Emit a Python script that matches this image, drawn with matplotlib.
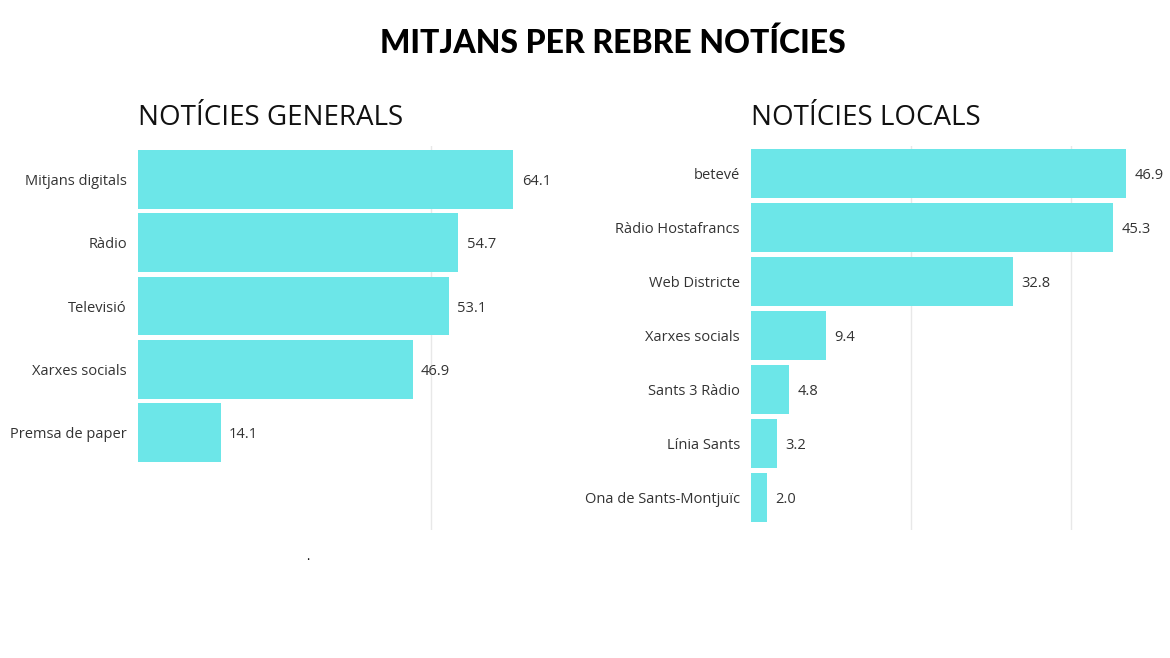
import matplotlib
matplotlib.use("Agg")
import matplotlib.pyplot as plt

# --- data ---
general_labels = ["Mitjans digitals", "Ràdio", "Televisió", "Xarxes socials", "Premsa de paper"]
general_values = [64.1, 54.7, 53.1, 46.9, 14.1]

local_labels = ["betevé", "Ràdio Hostafrancs", "Web Districte", "Xarxes socials",
                "Sants 3 Ràdio", "Línia Sants", "Ona de Sants-Montjuïc"]
local_values = [46.9, 45.3, 32.8, 9.4, 4.8, 3.2, 2.0]

BAR = "#6ce6e8"
TXT = "#333333"
W, H = 1170, 658

plt.rcParams["font.family"] = ["Open Sans", "DejaVu Sans"]


def panel(fig, rect_px, labels, values, xmax, ticks, height, ylim):
    x0, y0, x1, y1 = rect_px
    ax = fig.add_axes([x0 / W, 1 - y1 / H, (x1 - x0) / W, (y1 - y0) / H])
    pos = list(range(len(values)))
    ax.barh(pos, values, height=height, color=BAR, zorder=2)
    for p, v in zip(pos, values):
        ax.annotate(f"{v:.1f}", (v, p), xytext=(6, 0), textcoords="offset points",
                    va="center_baseline", ha="left", fontsize=10.5, color=TXT)
    ax.set_xlim(0, xmax)
    ax.set_ylim(*ylim)
    ax.set_yticks(pos)
    ax.set_yticklabels(labels, fontsize=10.5, color=TXT, va="center_baseline")
    ax.set_xticks(ticks)
    ax.set_xticklabels([])
    ax.tick_params(axis="both", length=0)
    ax.tick_params(axis="y", pad=8)
    ax.grid(axis="x", color="#e8e8e8", linewidth=1, zorder=0)
    for s in ax.spines.values():
        s.set_visible(False)
    return ax


fig = plt.figure(figsize=(W / 100, H / 100), dpi=100)

panel(fig, (138, 146, 548, 530), general_labels, general_values, 70, [50],
      0.93, (5.54, -0.53))
panel(fig, (751, 146, 1167, 530), local_labels, local_values, 52, [20, 40],
      0.907, (6.60, -0.51))

fig.text(613 / W, 1 - 43 / H, "MITJANS PER REBRE NOTÍCIES", ha="center", va="center",
         fontsize=23, fontweight="black", family=["Lato", "DejaVu Sans"], color="black")
fig.text(138 / W, 1 - 125 / H, "NOTÍCIES GENERALS", ha="left", va="baseline",
         fontsize=20, color="#111111")
fig.text(751 / W, 1 - 125 / H, "NOTÍCIES LOCALS", ha="left", va="baseline",
         fontsize=20, color="#111111")
fig.text(308 / W, 1 - 560 / H, ".", ha="center", va="baseline", fontsize=9, color="black")

fig.savefig("out.png", dpi=100, facecolor="white")
